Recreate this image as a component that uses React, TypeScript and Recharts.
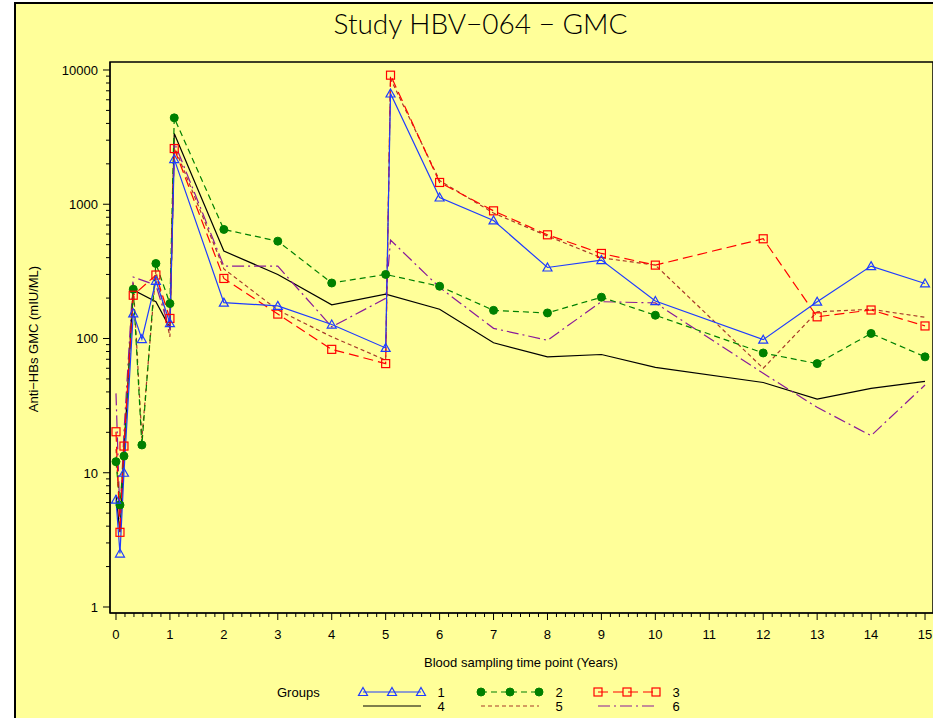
import React from 'react';
import { LineChart, Line, XAxis, YAxis, ReferenceArea } from 'recharts';

// sampling time points (years)
const times = [0, 0.074, 0.148, 0.32, 0.48, 0.74, 1.0, 1.08, 2, 3, 4, 5, 5.09, 6, 7, 8, 9, 10, 12, 13, 14, 15];

const group1 = [6.3, 2.5, 10, 154, 99, 269, 130, 2170, 185, 175, 127, 85, 6680, 1123, 757, 338, 384, 190, 98, 188, 346, 257];
const group2 = [12.1, 5.75, 13.3, 233, 16.1, 362, 182, 4400, 649, 531, 259, 300, null, 245, 162, 155, 203, 149, 78, 65, 109, 73];
const group3 = [20.2, 3.6, 15.8, 210, null, 297, 141, 2600, 280, 152, 83, 65, 9150, 1453, 893, 592, 430, 352, 553, 145, 163, 124];
const group4 = [6.8, 3.6, 14, 230, null, 188, 120, 3365, 448, 300, 178, 214, null, 165, 93, 73, 76, 61, 47, 35.4, 42.5, 48];
const group5 = [15, 5, 15, 260, 18, 320, 103, 2700, 330, 163, 103, 69, 8600, 1500, 860, 580, 399, 352, 60, 158, 165, 144];
const group6 = [39, 4.5, 20, 287, null, 250, 115, 2900, 346, 346, 122, 199, 541, 240, 119, 97, 188, 184, 55, 30.7, 18.9, 45];

const xTicks = Array.from({ length: 91 }, (_, i) => i / 6);
const yMajor = [1, 10, 100, 1000, 10000];
const yTicks = [
  1, 2, 3, 4, 5, 6, 7, 8, 9,
  10, 20, 30, 40, 50, 60, 70, 80, 90,
  100, 200, 300, 400, 500, 600, 700, 800, 900,
  1000, 2000, 3000, 4000, 5000, 6000, 7000, 8000, 9000,
  10000,
];

const X_DOMAIN = [-0.111, 15.148];
const Y_DOMAIN = [0.902, 11470];

const data = times.map((t, i) => ({
  t,
  g1: group1[i],
  g2: group2[i],
  g3: group3[i],
  g4: group4[i],
  g5: group5[i],
  g6: group6[i],
}));

const FONT = '"Liberation Sans", Arial, sans-serif';
const BLUE = '#1f3cff';
const GREEN = '#008000';
const RED = '#ff0000';
const BROWN = '#a83a2a';
const PURPLE = '#8a1a9a';

const XTick = (props: any) => {
  const { x, y, payload } = props;
  const v = payload.value;
  const major = Math.abs(v - Math.round(v)) < 1e-6;
  return (
    <g>
      <line x1={x} x2={x} y1={y} y2={y + (major ? 7 : 4)} stroke="#000" />
      {major && (
        <text x={x} y={y + 26} textAnchor="middle" fontFamily={FONT} fontSize={13} fill="#000">
          {Math.round(v)}
        </text>
      )}
    </g>
  );
};

const YTick = (props: any) => {
  const { x, y, payload } = props;
  const major = yMajor.includes(payload.value);
  return (
    <g>
      <line x1={x} x2={x - (major ? 7 : 4)} y1={y} y2={y} stroke="#000" />
      {major && (
        <text x={x - 12} y={y + 5} textAnchor="end" fontFamily={FONT} fontSize={13} fill="#000">
          {payload.value}
        </text>
      )}
    </g>
  );
};

const Triangle = ({ cx, cy, color }: any) => (
  <path d={`M${cx},${cy - 4.5}L${cx + 4.5},${cy + 3.5}L${cx - 4.5},${cy + 3.5}Z`} fill="none" stroke={color} strokeWidth={1.2} />
);
const Square = ({ cx, cy, color }: any) => (
  <rect x={cx - 4} y={cy - 4} width={8} height={8} fill="none" stroke={color} strokeWidth={1.2} />
);
const Circle = ({ cx, cy, color }: any) => <circle cx={cx} cy={cy} r={4} fill={color} stroke={color} />;

const dotFn = (Shape: any, color: string) => (p: any) => {
  if (p.value == null || p.cx == null || p.cy == null) return <g key={p.key ?? p.index} />;
  return (
    <g key={p.key ?? p.index}>
      <Shape cx={p.cx} cy={p.cy} color={color} />
    </g>
  );
};

const legendRows = [
  { label: '1', color: BLUE, dash: undefined, shape: Triangle, row: 0, col: 0 },
  { label: '2', color: GREEN, dash: '6 4', shape: Circle, row: 0, col: 1 },
  { label: '3', color: RED, dash: '10 5', shape: Square, row: 0, col: 2 },
  { label: '4', color: '#000', dash: undefined, shape: null, row: 1, col: 0 },
  { label: '5', color: BROWN, dash: '4 3', shape: null, row: 1, col: 1 },
  { label: '6', color: PURPLE, dash: '12 4 2 4', shape: null, row: 1, col: 2 },
];

const Legend = () => {
  const colX = [363, 481, 598];
  const labX = [441, 559, 676];
  const rowY = [692, 706];
  return (
    <svg width={933} height={718} style={{ position: 'absolute', left: 0, top: 0, pointerEvents: 'none' }}>
      <text x={277} y={697} fontFamily={FONT} fontSize={13} fill="#000">Groups</text>
      {legendRows.map((r) => {
        const x0 = colX[r.col];
        const y = rowY[r.row];
        const S: any = r.shape;
        return (
          <g key={r.label}>
            <line x1={x0} x2={x0 + 58} y1={y} y2={y} stroke={r.color} strokeDasharray={r.dash} strokeWidth={1.2} />
            {S && [0, 29, 58].map((d) => <S key={d} cx={x0 + d} cy={y} color={r.color} />)}
            <text x={labX[r.col]} y={y + 5} textAnchor="middle" fontFamily={FONT} fontSize={13} fill="#000">
              {r.label}
            </text>
          </g>
        );
      })}
    </svg>
  );
};

export default function App() {
  return (
    <div style={{ position: 'relative', width: 933, height: 718, background: '#fff', overflow: 'hidden' }}>
      <style>{'body{margin:0}'}</style>
      <div
        style={{
          position: 'absolute',
          left: 14,
          top: 2,
          width: 940,
          height: 740,
          background: '#ffff99',
          borderLeft: '2px solid #000',
          borderTop: '2px solid #000',
        }}
      />
      <div
        style={{
          position: 'absolute',
          left: 0,
          top: 6,
          width: 933,
          textAlign: 'center',
          paddingLeft: 28,
          boxSizing: 'border-box',
          fontFamily: 'Lato, "Liberation Sans", sans-serif',
          fontWeight: 300,
          fontSize: 28,
          color: '#000',
        }}
      >
        Study HBV−064 − GMC
      </div>
      <div style={{ position: 'absolute', left: 0, top: 0 }}>
        <LineChart width={933} height={718} data={data} margin={{ top: 62, right: 0, bottom: 75, left: 10 }}>
          <XAxis
            dataKey="t"
            type="number"
            domain={X_DOMAIN}
            ticks={xTicks}
            interval={0}
            tick={<XTick />}
            tickLine={false}
            tickSize={0}
            tickMargin={0}
            height={30}
            axisLine={{ stroke: '#000' }}
            allowDataOverflow
          />
          <YAxis
            scale="log"
            type="number"
            domain={Y_DOMAIN}
            ticks={yTicks}
            interval={0}
            tick={<YTick />}
            tickLine={false}
            tickSize={0}
            tickMargin={0}
            width={100}
            axisLine={{ stroke: '#000' }}
            allowDataOverflow
          />
          <ReferenceArea x1={X_DOMAIN[0]} x2={X_DOMAIN[1]} y1={Y_DOMAIN[0]} y2={Y_DOMAIN[1]} fill="none" stroke="#000" strokeWidth={1.5} />
          <Line dataKey="g4" stroke="#000" strokeWidth={1.2} dot={false} connectNulls isAnimationActive={false} />
          <Line dataKey="g5" stroke={BROWN} strokeWidth={1.2} strokeDasharray="4 3" dot={false} connectNulls isAnimationActive={false} />
          <Line dataKey="g6" stroke={PURPLE} strokeWidth={1.2} strokeDasharray="12 4 2 4" dot={false} connectNulls isAnimationActive={false} />
          <Line dataKey="g2" stroke={GREEN} strokeWidth={1.2} strokeDasharray="6 4" dot={dotFn(Circle, GREEN)} connectNulls isAnimationActive={false} />
          <Line dataKey="g3" stroke={RED} strokeWidth={1.2} strokeDasharray="10 5" dot={dotFn(Square, RED)} connectNulls isAnimationActive={false} />
          <Line dataKey="g1" stroke={BLUE} strokeWidth={1.2} dot={dotFn(Triangle, BLUE)} connectNulls isAnimationActive={false} />
        </LineChart>
      </div>
      <div
        style={{
          position: 'absolute',
          left: 14,
          top: 339,
          transform: 'translate(-50%, -50%) rotate(-90deg)',
          transformOrigin: 'center',
          marginLeft: 19,
          whiteSpace: 'nowrap',
          fontFamily: FONT,
          fontSize: 13,
          color: '#000',
        }}
      >
        Anti−HBs GMC (mIU/ML)
      </div>
      <div
        style={{
          position: 'absolute',
          left: 521,
          top: 655,
          transform: 'translateX(-50%)',
          whiteSpace: 'nowrap',
          fontFamily: FONT,
          fontSize: 13,
          color: '#000',
        }}
      >
        Blood sampling time point (Years)
      </div>
      <Legend />
    </div>
  );
}
